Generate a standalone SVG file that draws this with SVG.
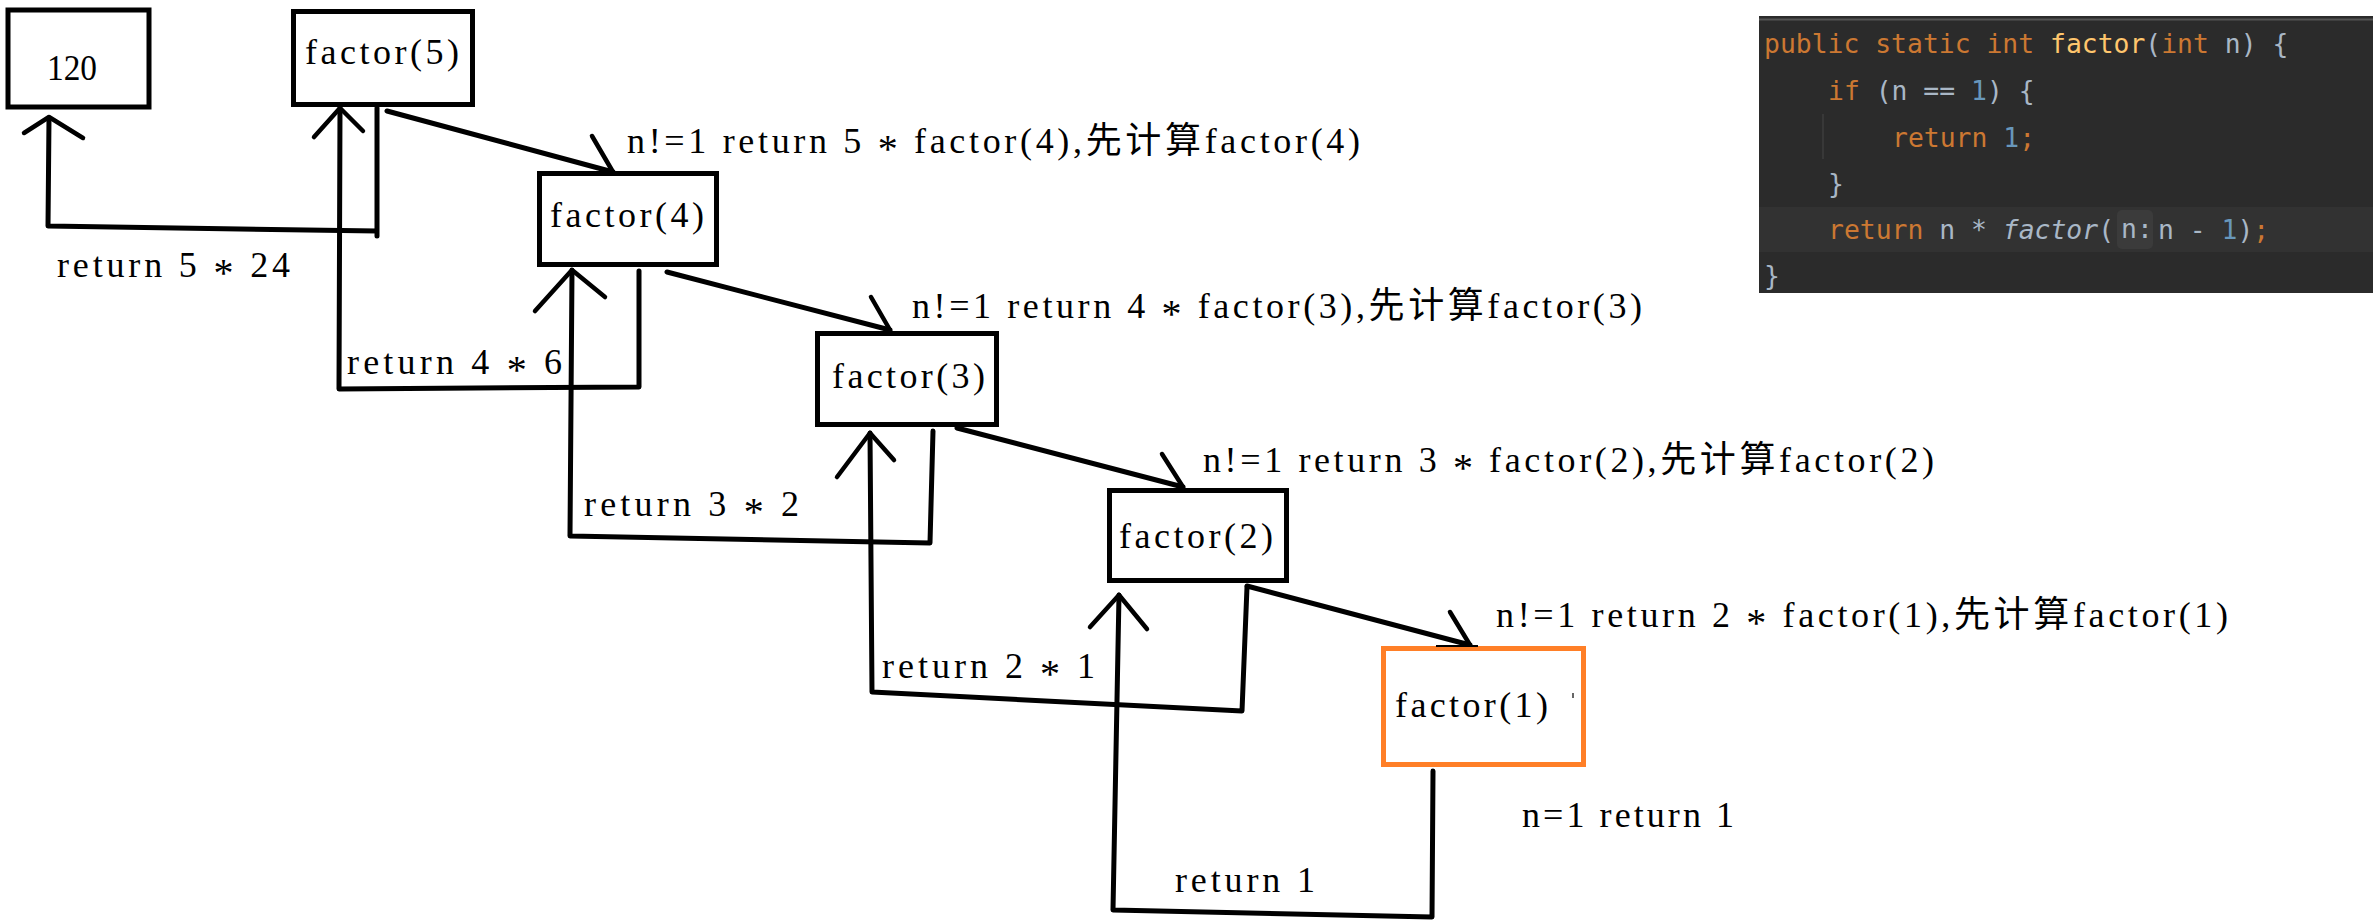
<svg xmlns="http://www.w3.org/2000/svg" width="2377" height="923" viewBox="0 0 2377 923">
<style>
.bg{fill:#ffffff}
.box{fill:none;stroke:#000;stroke-width:5}
.obox{fill:none;stroke:#ff7f27;stroke-width:5}
.t{font-family:'Liberation Serif','Noto Sans CJK SC',serif;font-size:36px;fill:#000}
.ast{font-size:40px}
.ln{fill:none;stroke:#000;stroke-width:5;stroke-linecap:round;stroke-linejoin:round}
.wing{fill:none;stroke:#000;stroke-width:4.5;stroke-linecap:round;stroke-linejoin:round}
.code{font-family:'DejaVu Sans Mono','Liberation Mono',monospace;font-size:26.4px;fill:#a9b7c6}
.kw{fill:#cc7832}
.fn{fill:#ffc66d}
.num{fill:#6897bb}
.it{font-style:italic}
</style>
<rect class="bg" x="0" y="0" width="2377" height="923"/>

<g id="connectors">
  <path class="ln" d="M377,108 L377,236 M377,231 L48,226 L49,118"/>
  <path class="wing" d="M24,133 L49,117 L83,138"/>
  <path class="ln" d="M639,271 L639,387 L339,389 L340,108"/>
  <path class="wing" d="M314,137 L340,108 L363,131"/>
  <path class="ln" d="M933,431 L930,543 L570,536 L572,270"/>
  <path class="wing" d="M535,311 L572,270 L605,297"/>
  <path class="ln" d="M1247,587 L1242,711 L872,692 L870,433"/>
  <path class="wing" d="M837,477 L870,433 L894,460"/>
  <path class="ln" d="M1433,771 L1432,917 L1113,910 L1119,595"/>
  <path class="wing" d="M1090,627 L1119,595 L1147,629"/>
  <path class="ln" d="M387,111 L613,172"/>
  <path class="wing" d="M592,136 L613,172"/>
  <path class="ln" d="M667,272 L890,330"/>
  <path class="wing" d="M871,297 L890,330"/>
  <path class="ln" d="M957,428 L1183,487"/>
  <path class="wing" d="M1162,454 L1183,487"/>
  <path class="ln" d="M1247,586 L1470,645"/>
  <path class="wing" d="M1450,612 L1470,645"/>
</g>

<g id="node-120">
  <rect class="box" x="8" y="10" width="141" height="97"/>
  <text class="t" x="47" y="80" textLength="50" lengthAdjust="spacingAndGlyphs">120</text>
</g>
<g id="node-factor5">
  <rect class="box" x="293.5" y="11.5" width="179" height="93"/>
  <text class="t" x="305" y="64" textLength="154">factor(5)</text>
</g>
<g id="node-factor4">
  <rect class="box" x="539.5" y="173.5" width="177" height="91"/>
  <text class="t" x="550" y="227" textLength="154">factor(4)</text>
</g>
<g id="node-factor3">
  <rect class="box" x="817.5" y="333.5" width="179" height="91"/>
  <text class="t" x="832" y="388" textLength="153">factor(3)</text>
</g>
<g id="node-factor2">
  <rect class="box" x="1109.5" y="490.5" width="177" height="90"/>
  <text class="t" x="1119" y="548" textLength="154">factor(2)</text>
</g>
<g id="node-factor1">
  <rect class="obox" x="1383.5" y="648.5" width="200" height="116"/>
  <line x1="1436" y1="646" x2="1478" y2="646" stroke="#000" stroke-width="2"/>
  <text class="t" x="1395" y="717" textLength="153">factor(1)</text>
  <line x1="1573" y1="693" x2="1573" y2="698" stroke="#333" stroke-width="1.5"/>
</g>

<g id="labels">
  <text class="t" x="57" y="277" textLength="233">return 5 <tspan class="ast" dy="9">*</tspan><tspan dy="-9"> 24</tspan></text>
  <text class="t" x="347" y="374" textLength="215">return 4 <tspan class="ast" dy="9">*</tspan><tspan dy="-9"> 6</tspan></text>
  <text class="t" x="584" y="516" textLength="215">return 3 <tspan class="ast" dy="9">*</tspan><tspan dy="-9"> 2</tspan></text>
  <text class="t" x="882" y="678" textLength="213">return 2 <tspan class="ast" dy="9">*</tspan><tspan dy="-9"> 1</tspan></text>
  <text class="t" x="1175" y="892" textLength="140">return 1</text>
  <text class="t" x="1522" y="827" textLength="212">n=1 return 1</text>
  <text class="t" x="627" y="153" textLength="733">n!=1 return 5 <tspan class="ast" dy="9">*</tspan><tspan dy="-9"> factor(4),先计算factor(4)</tspan></text>
  <text class="t" x="912" y="318" textLength="730">n!=1 return 4 <tspan class="ast" dy="9">*</tspan><tspan dy="-9"> factor(3),先计算factor(3)</tspan></text>
  <text class="t" x="1203" y="472" textLength="731">n!=1 return 3 <tspan class="ast" dy="9">*</tspan><tspan dy="-9"> factor(2),先计算factor(2)</tspan></text>
  <text class="t" x="1496" y="627" textLength="732">n!=1 return 2 <tspan class="ast" dy="9">*</tspan><tspan dy="-9"> factor(1),先计算factor(1)</tspan></text>
</g>

<g id="code-panel">
  <rect x="1759" y="16" width="614" height="277" fill="#2b2b2b"/>
  <line x1="1759" y1="19.5" x2="2373" y2="19.5" stroke="#555555" stroke-width="2"/>
  <rect x="1759" y="207" width="614" height="45" fill="#323232"/>
  <line x1="1823" y1="114" x2="1823" y2="159" stroke="#3e3e3e" stroke-width="1.5"/>
  <rect x="2117" y="210" width="36" height="39" rx="5" fill="#3b3b3b"/>
  <text class="code" x="1764" y="53" xml:space="preserve"><tspan class="kw">public static int </tspan><tspan class="fn">factor</tspan>(<tspan class="kw">int</tspan> n) {</text>
  <text class="code" x="1828" y="100" xml:space="preserve"><tspan class="kw">if</tspan> (n == <tspan class="num">1</tspan>) {</text>
  <text class="code" x="1892" y="147" xml:space="preserve"><tspan class="kw">return </tspan><tspan class="num">1</tspan><tspan class="kw">;</tspan></text>
  <text class="code" x="1828" y="193">}</text>
  <text class="code" x="1828" y="239" xml:space="preserve"><tspan class="kw">return</tspan> n * <tspan class="it">factor</tspan>(</text>
  <text class="code" x="2121" y="238" font-size="23" fill="#7a7a7a">n:</text>
  <text class="code" x="2158" y="239" xml:space="preserve">n - <tspan class="num">1</tspan>)<tspan class="kw">;</tspan></text>
  <text class="code" x="1764" y="285">}</text>
</g>
</svg>
